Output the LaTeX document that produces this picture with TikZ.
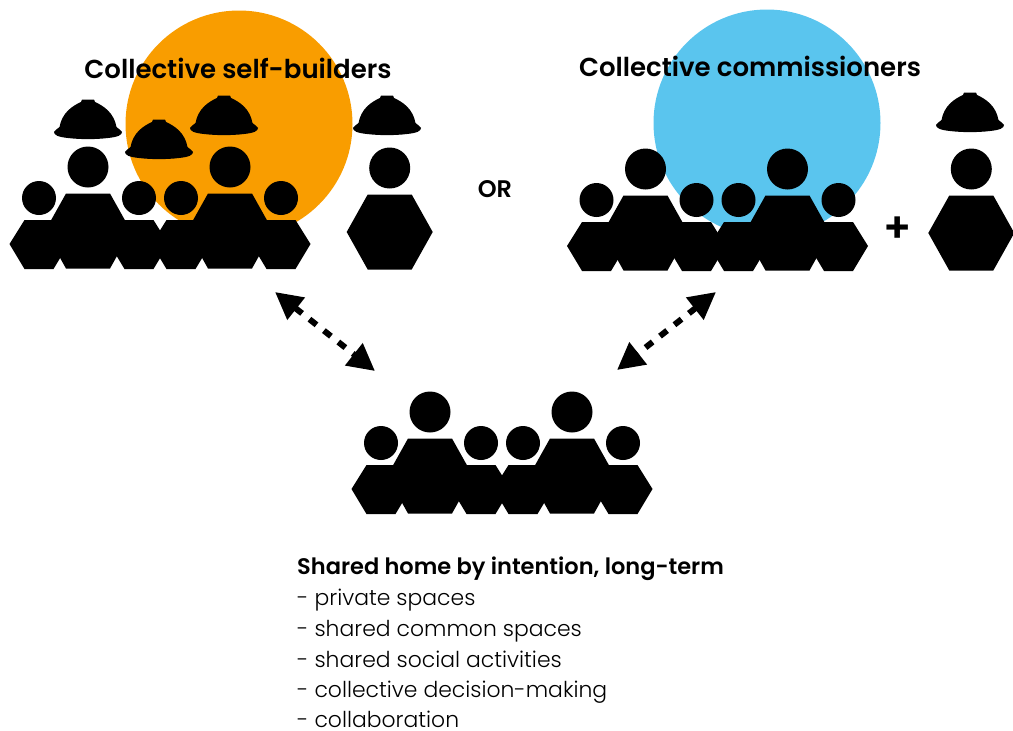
\documentclass[tikz,border=0pt]{standalone}
\usepackage{fontspec}
\setmainfont{Poppins Light}[BoldFont=Poppins SemiBold]
\usetikzlibrary{arrows.meta}
\definecolor{selforange}{HTML}{F99D00}
\definecolor{commblue}{HTML}{5AC5EE}
\tikzset{
  title/.style={font=\bfseries\fontsize{26}{30}\selectfont},
  lead/.style={anchor=base west,inner sep=0pt,font=\bfseries\fontsize{22.5}{25}\selectfont},
  item/.style={anchor=base west,inner sep=0pt,font=\fontsize{21.9}{25}\selectfont},
  link/.style={black,line width=6pt,dash pattern=on 9pt off 9.4pt,{Triangle[length=27pt,width=27pt]}-{Triangle[length=27pt,width=27pt]}},
  bigperson/.pic={
    \fill (0,0) circle (20.5);
    \fill (-22,26.5) -- (22,26.5) -- (43,64) -- (22,101.5) -- (-22,101.5) -- (-43,64) -- cycle;
  },
  smallperson/.pic={
    \fill (0,0) circle (17);
    \fill (-14.5,22) -- (14.5,22) -- (29.5,46) -- (14.5,71) -- (-14.5,71) -- (-29.5,46) -- cycle;
  },
  hardhat/.pic={
    \fill (-34,33) .. controls (-33.5,31) and (-30,30) .. (-28.5,28)
      .. controls (-26,14) and (-16,7) .. (-7,3) -- (-6,0.5) -- (6,0.5) -- (7,3)
      .. controls (16,7) and (26,14) .. (28.5,28)
      .. controls (30,30) and (33.5,31) .. (34,33)
      .. controls (34,36) and (30,38) .. (20,39)
      .. controls (8,40.5) and (-8,40.5) .. (-20,39)
      .. controls (-30,38) and (-34,36) .. (-34,33) -- cycle;
  },
  crew/.pic={
    \pic at (-49,31) {smallperson};
    \pic at (51,31) {smallperson};
    \pic at (93,31) {smallperson};
    \pic at (193,31) {smallperson};
    \pic at (0,0) {bigperson};
    \pic at (142,0) {bigperson};
  }
}

\begin{document}
\begin{tikzpicture}[x=1pt,y=-1pt]
\useasboundingbox (0,0) rectangle (1013,731);
% circles behind the people
\fill[selforange] (239,124) circle (113.5);
\fill[commblue] (767,123) circle (113.5);
% self-builders
\pic at (88,167) {crew};
\pic at (88,99) {hardhat};
\pic at (159,119) {hardhat};
\pic at (224,95) {hardhat};
\pic at (389.7,168) {bigperson};
\pic at (387,95) {hardhat};
% commissioners
\pic at (645.5,169) {crew};
\pic at (971.3,169) {bigperson};
\pic at (970,92) {hardhat};
% residents
\pic at (430,412) {crew};
\node[title] (selfbuilders) at (238,68) {Collective self-builders};
\node[title] (commissioners) at (750,66) {Collective commissioners};
\node[font=\bfseries\fontsize{24}{28}\selectfont] (orlabel) at (495,189) {OR};
\node[font=\bfseries\fontsize{42}{48}\selectfont] (pluslabel) at (898,230) {+};
\coordinate (selfend) at (275,292);
\coordinate (commend) at (716,292);
\coordinate (homeleft) at (375,371);
\coordinate (homeright) at (617,370);
\draw[link] (selfend) -- (homeleft);
\draw[link] (commend) -- (homeright);
\node[lead] (hometitle) at (297,574) {Shared home by intention, long-term};
\node[item] (itema) at (297,605) {- private spaces};
\node[item] (itemb) at (297,636) {- shared common spaces};
\node[item] (itemc) at (297,667) {- shared social activities};
\node[item] (itemd) at (297,697.5) {- collective decision-making};
\node[item] (iteme) at (297,727.5) {- collaboration};
\end{tikzpicture}
\end{document}
